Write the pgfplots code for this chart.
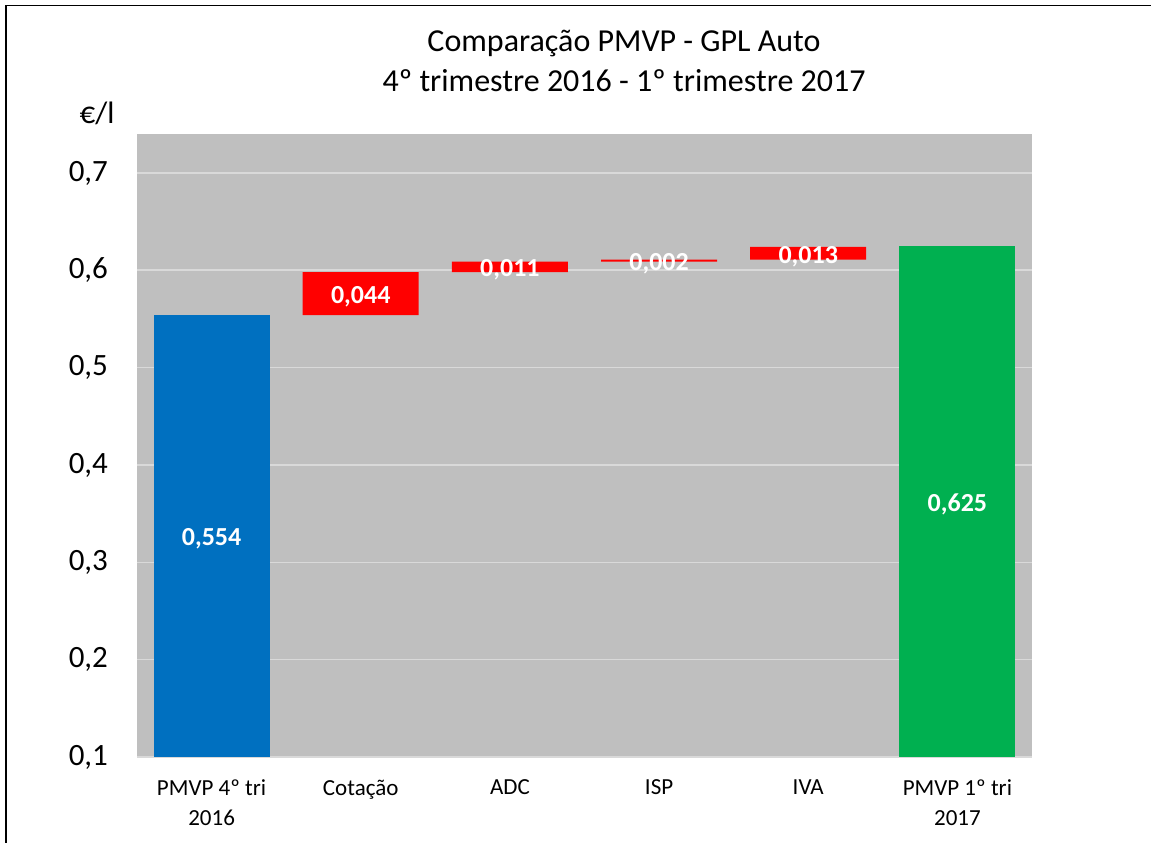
\documentclass[border=0pt]{standalone}
\usepackage{fontspec}
\setmainfont{Carlito}
\usepackage{pgfplots}
\pgfplotsset{compat=1.18}

\definecolor{plotbg}{RGB}{191,191,191}
\definecolor{gridc}{RGB}{217,217,217}
\definecolor{xlblue}{RGB}{0,112,192}
\definecolor{xlred}{RGB}{255,0,0}
\definecolor{xlgreen}{RGB}{0,176,80}

\tikzset{vlab/.style={text=white, font=\bfseries\fontsize{13}{15}\selectfont, yshift=-1.5pt}}

\begin{document}
\begin{tikzpicture}
% 1 px of the reference = 0.5pt
\useasboundingbox (0,0) rectangle (575.5pt,421pt);
\draw[line width=0.7pt] (3pt,-5pt) -- (3pt,418.3pt) -- (580pt,418.3pt);

\node[font=\fontsize{16}{20}\selectfont] at (312pt,399pt) {Comparação PMVP - GPL Auto};
\node[font=\fontsize{16}{20}\selectfont] at (312pt,380.5pt) {4º trimestre 2016 - 1º trimestre 2017};
\node[font=\fontsize{15.5}{18}\selectfont] at (48.5pt,364.5pt) {€/l};

\begin{axis}[
  at={(68.5pt,42.5pt)}, anchor=south west,
  scale only axis,
  width=447.5pt, height=311.5pt,
  ybar=0pt,
  bar width=58pt,
  bar shift=0pt,
  xmin=-0.5, xmax=5.5,
  ymin=0.1, ymax=0.74,
  xtick={0,1,2,3,4,5},
  xticklabels={{PMVP 4º tri\\2016},Cotação,ADC,ISP,IVA,{PMVP 1º tri\\2017}},
  ytick={0.1,0.2,0.3,0.4,0.5,0.6,0.7},
  major tick length=0pt,
  axis x line*=bottom,
  axis y line*=left,
  x axis line style={draw=gridc, line width=0.8pt, -},
  y axis line style={draw=none},
  axis background/.style={fill=plotbg},
  ymajorgrids,
  grid style={gridc, line width=0.8pt},
  xticklabel style={align=center, font=\fontsize{11.5}{15}\selectfont, yshift=-8pt},
  yticklabel style={font=\fontsize{15.5}{18}\selectfont, xshift=-11pt,
    /pgf/number format/use comma,
    /pgf/number format/fixed,
    /pgf/number format/fixed zerofill,
    /pgf/number format/precision=1,
    /pgf/number format/assume math mode=true},
]
\addplot[draw=none, fill=xlblue] coordinates {(0,0.554)};
\addplot[draw=none, fill=xlgreen] coordinates {(5,0.625)};
% floating bars: invisible base, red step on top
\addplot[stack plots=y, draw=none, fill=none] coordinates {(1,0.554) (2,0.598) (3,0.609) (4,0.611)};
\addplot[stack plots=y, draw=none, fill=xlred] coordinates {(1,0.044) (2,0.011) (3,0.002) (4,0.013)};

\coordinate (l0) at (axis cs:0,0.327);
\coordinate (l1) at (axis cs:1,0.576);
\coordinate (l2) at (axis cs:2,0.6035);
\coordinate (l3) at (axis cs:3,0.610);
\coordinate (l4) at (axis cs:4,0.6175);
\coordinate (l5) at (axis cs:5,0.3625);
\end{axis}
\node[vlab] at (l0) {0,554};
\node[vlab] at (l1) {0,044};
\node[vlab] at (l2) {0,011};
\node[vlab] at (l3) {0,002};
\node[vlab] at (l4) {0,013};
\node[vlab] at (l5) {0,625};
\end{tikzpicture}
\end{document}
